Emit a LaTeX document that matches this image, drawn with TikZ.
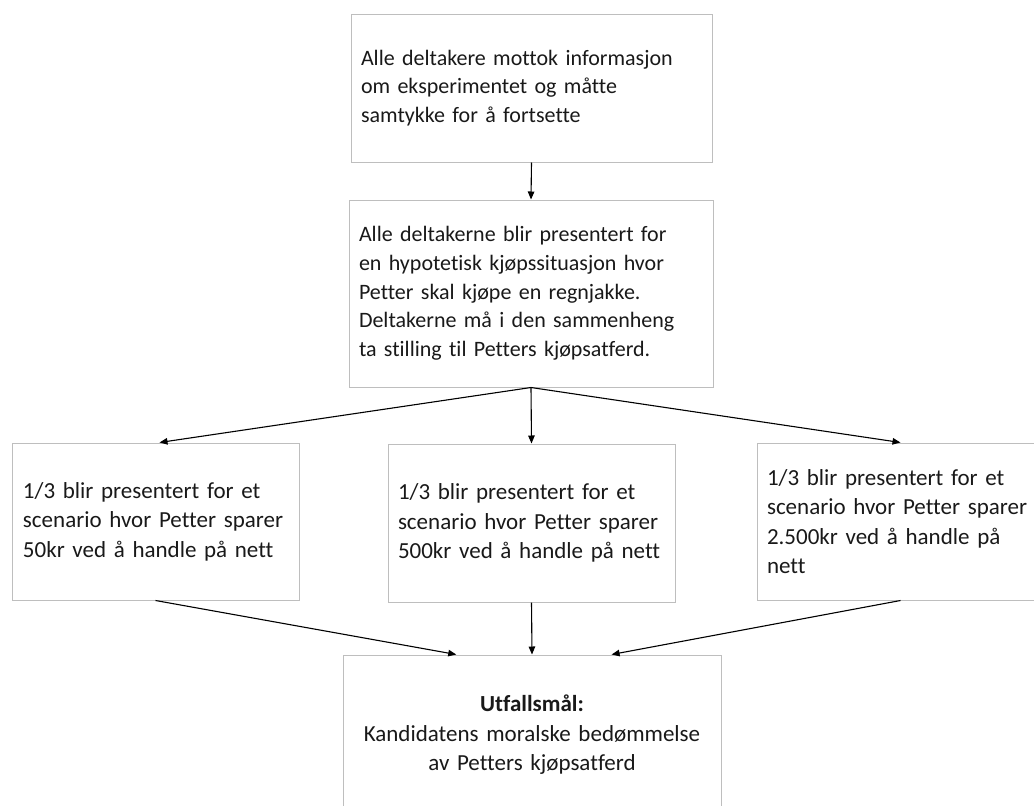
\documentclass[tikz,border=0pt]{standalone}
\usepackage{fontspec}
\setmainfont{Carlito}[Ligatures=NoCommon]
\usetikzlibrary{arrows.meta,calc}
\definecolor{boxgray}{RGB}{190,190,190}
\begin{document}
\begin{tikzpicture}[x=1pt,y=-1pt,
  box/.style={draw=boxgray,line width=1pt,inner sep=0pt,align=left,
    font=\fontsize{22}{28.7}\selectfont,text=black!90},
  sbox/.style={box,font=\fontsize{23}{29.5}\selectfont},
  arr/.style={-{Triangle[length=8pt,width=6.5pt]},line width=1.1pt}]
\useasboundingbox (0,0) rectangle (1034,806);
\node[box,minimum width=361,minimum height=148,text width=341] (b1) at (531.5,88)
  {\mbox{Alle deltakere mottok informasjon}\\\mbox{om eksperimentet og måtte}\\\mbox{samtykke for å fortsette}};
\node[box,minimum width=364,minimum height=187,text width=344] (b2) at (531,293.5)
  {\mbox{Alle deltakerne blir presentert for}\\\mbox{en hypotetisk kjøpssituasjon hvor}\\\mbox{Petter skal kjøpe en regnjakke.}\\\mbox{Deltakerne må i den sammenheng}\\\mbox{ta stilling til Petters kjøpsatferd.}};
\node[sbox,minimum width=287,minimum height=157,text width=265] (l) at (155.5,521.5)
  {\mbox{1/3 blir presentert for et}\\\mbox{scenario hvor Petter sparer}\\\mbox{50kr ved å handle på nett}};
\node[sbox,minimum width=287,minimum height=158,text width=267] (m) at (531.5,523)
  {\mbox{1/3 blir presentert for et}\\\mbox{scenario hvor Petter sparer}\\\mbox{500kr ved å handle på nett}};
\node[sbox,minimum width=287,minimum height=157,text width=267] (r) at (900.5,521.5)
  {\mbox{1/3 blir presentert for et}\\\mbox{scenario hvor Petter sparer}\\\mbox{2.500kr ved å handle på}\\\mbox{nett}};
\node[sbox,align=center,minimum width=378,minimum height=160,text width=358] (o) at (532,735)
  {\textbf{Utfallsmål:}\\Kandidatens moralske bedømmelse\\av Petters kjøpsatferd};
\draw[arr] (b1.south) -- (b2.north);
\draw[arr] (b2.south) -- ($(l.north)+(4,0)$);
\draw[arr] (b2.south) -- (m.north);
\draw[arr] (b2.south) -- (r.north);
\draw[arr] (l.south) -- ($(o.north west)!0.30!(o.north east)$);
\draw[arr] (m.south) -- (o.north);
\draw[arr] (r.south) -- ($(o.north west)!0.71!(o.north east)$);
\end{tikzpicture}
\end{document}
